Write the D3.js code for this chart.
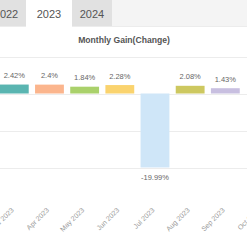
<!DOCTYPE html>
<html>
<head>
<meta charset="utf-8">
<script src="https://cdn.jsdelivr.net/npm/d3@7"></script>
<style>
    body { margin: 0; background: #fff; }
    svg { display: block; font-family: "Liberation Sans", Arial, sans-serif; }
</style>
</head>
<body>
<svg id="gain"></svg>
<script>
const years = ['2022', '2023', '2024']
const activeYear = '2023'
const months = ['Jan 2023', 'Feb 2023', 'Mar 2023', 'Apr 2023', 'May 2023', 'Jun 2023',
    'Jul 2023', 'Aug 2023', 'Sep 2023', 'Oct 2023', 'Nov 2023', 'Dec 2023']
// only Mar..Sep are visible in the picture
const gains = [null, null, 2.42, 2.4, 1.84, 2.28, -19.99, 2.08, 1.43, null, null, null]
const colors = ['#7cb5ec', '#f7a35c', '#5ab5b1', '#fbb58d', '#aad16b', '#fad36e',
    '#cfe6f8', '#cdc860', '#c8bfe0', '#f15c80', '#e4d354', '#8085e8']
const gridTicks = [10, 0, -10, -20]

const width = 247, height = 247

let svg = d3.select('#gain')
    .attr('width', width).attr('height', height)

// tab bar
svg.append('rect')
    .attr('x', 0).attr('y', 0)
    .attr('width', width).attr('height', 26)
    .attr('fill', '#f4f4f4')
svg.append('line')
    .attr('x1', 0).attr('x2', width)
    .attr('y1', 26.5).attr('y2', 26.5)
    .attr('stroke', '#ececec')

let tabX = d3.scaleOrdinal()
    .domain(years)
    .range([[-14, 26], [26, 72], [72, 112]])

let tabs = svg.selectAll('g.tab')
    .data(years)
    .enter().append('g')
    .attr('class', 'tab')
tabs.append('rect')
    .attr('x', d => tabX(d)[0])
    .attr('y', 0)
    .attr('width', d => tabX(d)[1] - tabX(d)[0])
    .attr('height', d => d == activeYear ? 27 : 26)
    .attr('fill', d => d == activeYear ? '#ffffff' : '#e1e1e1')
tabs.append('text')
    .attr('x', d => (tabX(d)[0] + tabX(d)[1]) / 2)
    .attr('y', 18)
    .attr('text-anchor', 'middle')
    .attr('font-size', 11)
    .attr('fill', '#555')
    .text(d => d)

svg.append('text')
    .attr('x', 124).attr('y', 43)
    .attr('text-anchor', 'middle')
    .attr('font-size', 8.6)
    .attr('font-weight', 'bold')
    .attr('fill', '#555')
    .text('Monthly Gain(Change)')

let scale_x = d3.scaleBand()
    .domain(months)
    .range([-76.8, 351.6])
    .padding(0.18)

let scale_y = d3.scaleLinear()
    .domain([-30, 10])
    .range([204.5, 56.5])

let grid = svg.append('g')
grid.selectAll('line')
    .data(gridTicks)
    .enter().append('line')
    .attr('x1', 0).attr('x2', width)
    .attr('y1', d => Math.round(scale_y(d)) + 0.5)
    .attr('y2', d => Math.round(scale_y(d)) + 0.5)
    .attr('stroke', '#ececec')

let data = months.map((m, i) => ({month: m, value: gains[i], color: colors[i]}))
    .filter(d => d.value !== null)

svg.append('g').selectAll('rect')
    .data(data)
    .enter().append('rect')
    .attr('x', d => scale_x(d.month))
    .attr('width', scale_x.bandwidth())
    .attr('y', d => scale_y(Math.max(0, d.value)))
    .attr('height', d => Math.abs(scale_y(d.value) - scale_y(0)))
    .attr('fill', d => d.color)

svg.append('g').selectAll('text')
    .data(data)
    .enter().append('text')
    .attr('x', d => scale_x(d.month) + scale_x.bandwidth() / 2)
    .attr('y', d => d.value >= 0 ? scale_y(d.value) - 6.5 : scale_y(d.value) + 13)
    .attr('text-anchor', 'middle')
    .attr('font-size', 7.5)
    .attr('fill', '#666')
    .text(d => d.value + '%')

let xAxis = svg.append('g')
    .attr('transform', 'translate(0,' + scale_y(-30) + ')')
    .call(d3.axisBottom(scale_x).tickSize(0).tickPadding(0))
xAxis.select('.domain').remove()
xAxis.selectAll('text')
    .attr('font-size', 7)
    .attr('fill', '#999')
    .attr('text-anchor', 'end')
    .attr('dy', 0)
    .attr('transform', 'translate(0,6) rotate(-45)')
</script>
</body>
</html>
